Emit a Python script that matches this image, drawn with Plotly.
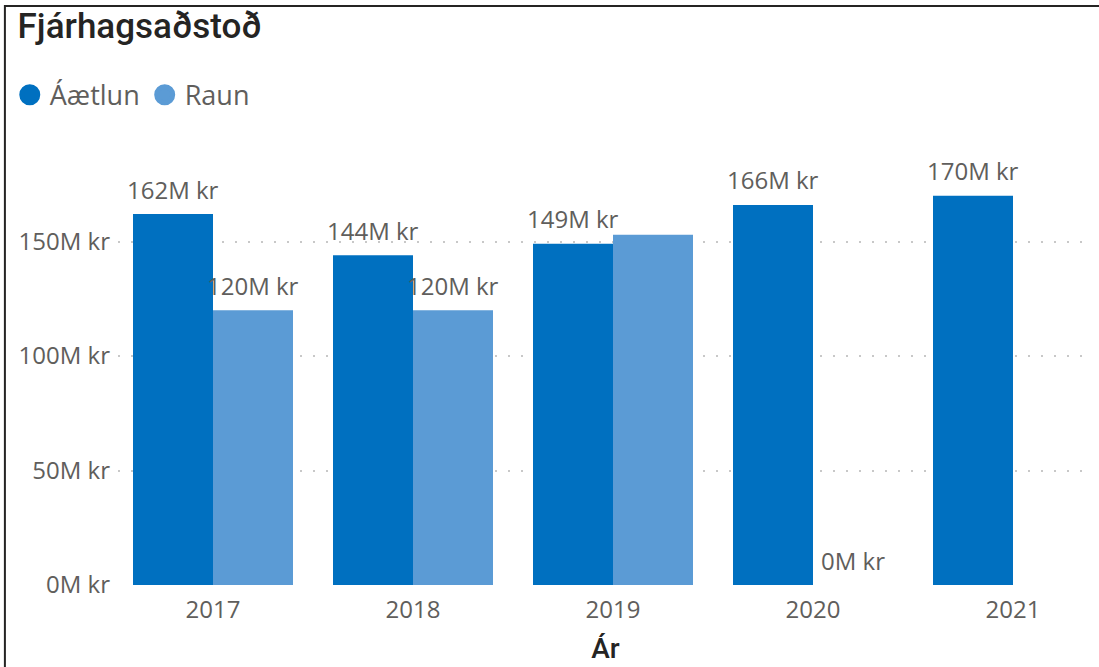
import plotly.graph_objects as go

# data (millions of kr)
years = ["2017", "2018", "2019", "2020", "2021"]
aaetlun = [162, 144, 149, 166, 170]
raun = [120, 120, 153, 0, None]
raun_label_shown = [True, True, False, True, False]

y_ticks = [0, 50, 100, 150]
y_ticktext = ["0M kr", "50M kr", "100M kr", "150M kr"]

DARK = "#0070C0"
LIGHT = "#5B9BD5"
GRAY = "#605E5C"
FONT = "Open Sans"
TITLE_FONT = "Roboto"

fig = go.Figure()
fig.add_trace(go.Bar(x=years, y=aaetlun, name="Áætlun", marker_color=DARK,
                     marker_line_width=0, showlegend=False))
fig.add_trace(go.Bar(x=years, y=raun, name="Raun", marker_color=LIGHT,
                     marker_line_width=0, showlegend=False))

# legend entries as circles
for name, col in [("Áætlun", DARK), ("Raun", LIGHT)]:
    fig.add_trace(go.Scatter(x=[None], y=[None], mode="markers", name=name,
                             marker=dict(size=16, color=col,
                                         line=dict(width=5, color=col))))

# data labels above the bars
for i in range(len(years)):
    fig.add_annotation(x=i, y=aaetlun[i], xref="x", yref="y",
                       xshift=-40, yshift=25, text=f"{aaetlun[i]}M kr",
                       showarrow=False, yanchor="middle",
                       font=dict(family=FONT, size=24, color=GRAY))
    if raun[i] is not None and raun_label_shown[i]:
        fig.add_annotation(x=i, y=raun[i], xref="x", yref="y",
                           xshift=40, yshift=25, text=f"{raun[i]}M kr",
                           showarrow=False, yanchor="middle",
                           font=dict(family=FONT, size=24, color=GRAY))

fig.update_layout(
    width=1099, height=667,
    margin=dict(l=118, r=6, t=150, b=82, autoexpand=False),
    paper_bgcolor="white", plot_bgcolor="white",
    barmode="group", bargap=0.2, bargroupgap=0,
    title=dict(text="Fjárhagsaðstoð", x=0.016, xanchor="left", y=0.962,
               yanchor="middle",
               font=dict(family=TITLE_FONT, size=35, color="#252423", weight=500)),
    legend=dict(orientation="h", x=-0.111, xanchor="left", y=1.126,
                yanchor="middle", font=dict(family=FONT, size=27, color=GRAY),
                itemwidth=30, tracegroupgap=0, bgcolor="rgba(0,0,0,0)"),
    xaxis=dict(type="category", range=[-0.475, 4.4], showgrid=False,
               showline=False, ticks="", ticklabelstandoff=8, automargin=False,
               tickfont=dict(family=FONT, size=24, color=GRAY),
               title=dict(text="Ár", standoff=14,
                          font=dict(family=TITLE_FONT, size=28, color="#252423",
                                    weight=500))),
    yaxis=dict(range=[0, 190], tickvals=y_ticks, ticktext=y_ticktext,
               showgrid=True, gridcolor="#C8C8C8", gridwidth=2,
               griddash="2px,11px", zeroline=False, showline=False,
               ticks="", ticklabelstandoff=7, automargin=False,
               tickfont=dict(family=FONT, size=24, color=GRAY)),
    shapes=[dict(type="rect", xref="paper", yref="paper",
                 x0=-0.116, x1=1.2, y0=-0.3, y1=1.331,
                 line=dict(color="#252423", width=2))],
)

# the page has an 8px body margin by default; drop it so the figure fills the window
fig.write_html("out.html", config={"displayModeBar": False},
               post_script="document.body.style.margin='0';")
